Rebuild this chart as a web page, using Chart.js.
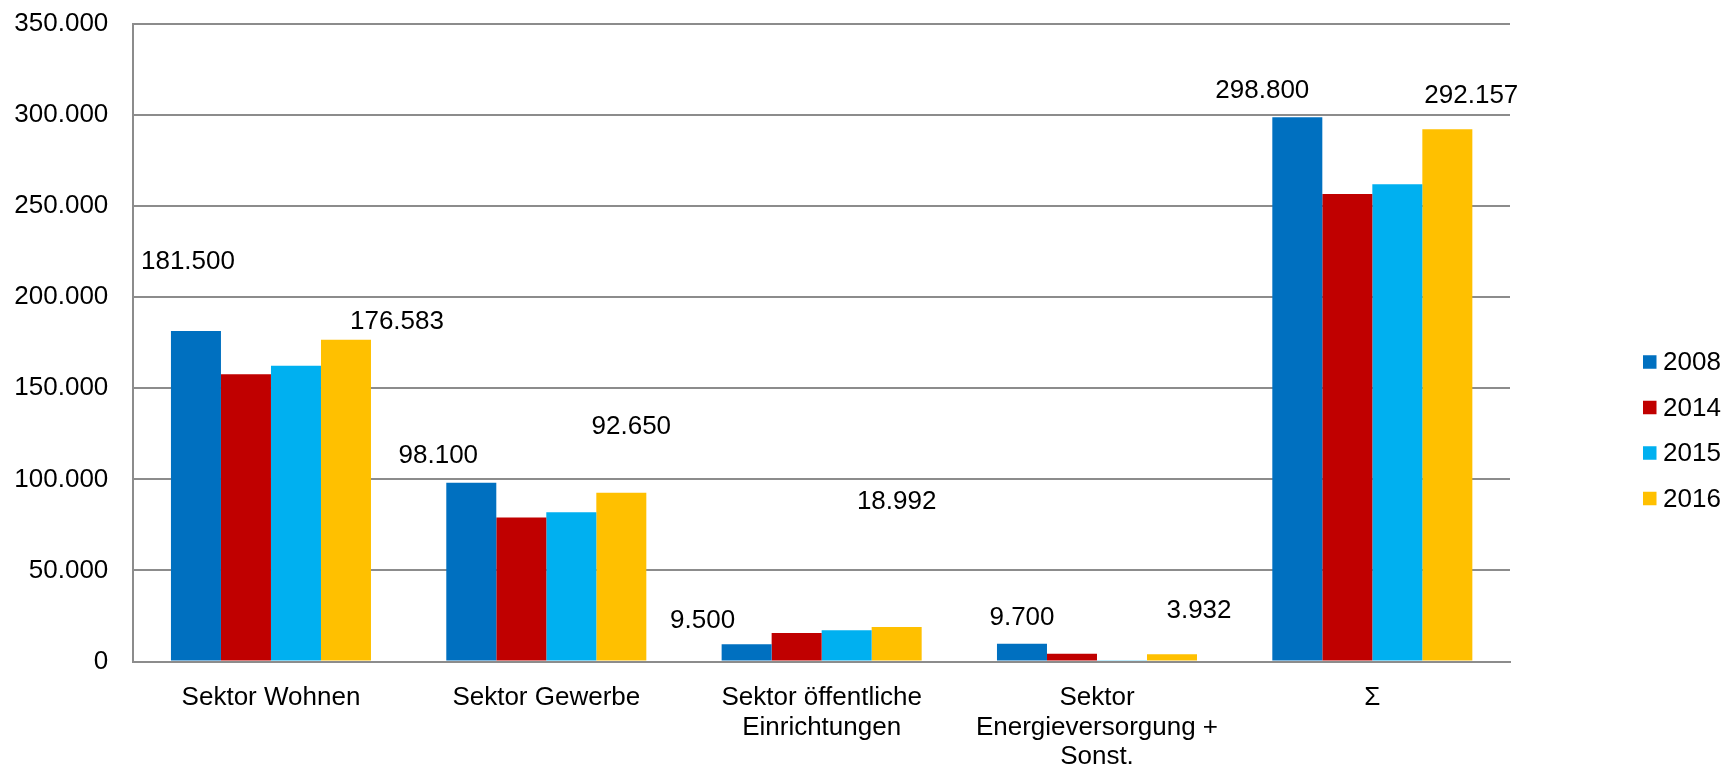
<!DOCTYPE html>
<html lang="de">
<head>
<meta charset="utf-8">
<title>Sektoren 2008-2016</title>
<script src="https://cdn.jsdelivr.net/npm/chart.js@4.4.1/dist/chart.umd.min.js"></script>
<style>
    html, body { margin: 0; padding: 0; background: #fff; }
    #wrap { width: 1727px; height: 765px; }
</style>
</head>
<body>
<div id="wrap"><canvas id="sektorChart" width="1727" height="765"></canvas></div>
<script>
// Data
const categories = [
    ['Sektor Wohnen'],
    ['Sektor Gewerbe'],
    ['Sektor öffentliche', 'Einrichtungen'],
    ['Sektor', 'Energieversorgung +', 'Sonst.'],
    ['Σ']
];
const years = ['2008', '2014', '2015', '2016'];
const values2008 = [181500, 98100, 9500, 9700, 298800];
const values2014 = [157700, 79000, 15700, 4200, 256600];
const values2015 = [162400, 81900, 17200, 400, 262000];
const values2016 = [176583, 92650, 18992, 3932, 292157];
const yTicks = [0, 50000, 100000, 150000, 200000, 250000, 300000, 350000];

// only 2008 and 2016 carry value labels in the original
const labelledSeries = [0, 3];

const colors = ['#0070C0', '#C00000', '#00B0F0', '#FFC000'];
const FONT = "'Liberation Sans', Arial, sans-serif";

// label offsets (px) from the top centre of each bar, as placed in the original
const labelOffsets = {
    0: [[-8, -69], [-33, -27], [-44, -23], [0, -26], [-35, -26]],
    3: [[51, -18], [10, -66], [0, -125], [27, -44], [24, -34]]
};

function fmt(v) {
    return String(Math.round(v)).replace(/\B(?=(\d{3})+(?!\d))/g, '.');
}

const valueLabels = {
    id: 'valueLabels',
    afterDatasetsDraw(chart) {
        const ctx = chart.ctx;
        ctx.save();
        ctx.font = '26px ' + FONT;
        ctx.fillStyle = '#000';
        ctx.textAlign = 'center';
        ctx.textBaseline = 'middle';
        labelledSeries.forEach(di => {
            const meta = chart.getDatasetMeta(di);
            meta.data.forEach((bar, i) => {
                const off = labelOffsets[di][i];
                const v = chart.data.datasets[di].data[i];
                ctx.fillText(fmt(v), bar.x + off[0], bar.y + off[1]);
            });
        });
        ctx.restore();
    }
};

const sideLegend = {
    id: 'sideLegend',
    afterDraw(chart) {
        const ctx = chart.ctx;
        const x = 1643, y0 = 362, step = 45.5, box = 13.5;
        ctx.save();
        ctx.font = '26px ' + FONT;
        ctx.textAlign = 'left';
        ctx.textBaseline = 'middle';
        chart.data.datasets.forEach((ds, i) => {
            const y = y0 + i * step;
            ctx.fillStyle = ds.backgroundColor;
            ctx.fillRect(x, y - box / 2, box, box);
            ctx.fillStyle = '#000';
            ctx.fillText(ds.label, x + 20, y + 1);
        });
        ctx.restore();
    }
};

const seriesValues = [values2008, values2014, values2015, values2016];

const chart = new Chart(document.getElementById('sektorChart'), {
    type: 'bar',
    data: {
        labels: categories,
        datasets: years.map((y, i) => ({
            label: y,
            data: seriesValues[i],
            backgroundColor: colors[i],
            borderWidth: 0,
            categoryPercentage: 0.7265,
            barPercentage: 1
        }))
    },
    options: {
        responsive: false,
        animation: false,
        layout: { padding: { top: 24, right: 217, left: 0, bottom: 0 } },
        plugins: {
            legend: { display: false },
            tooltip: { enabled: false }
        },
        scales: {
            x: {
                grid: { display: false, drawTicks: false },
                border: { display: true, color: '#8c8c8c', width: 2 },
                ticks: {
                    color: '#000',
                    font: { family: FONT, size: 26, lineHeight: 1.15 },
                    padding: 21,
                    maxRotation: 0,
                    autoSkip: false
                },
                afterFit(scale) {
                    scale.height = 103.5;
                    scale.paddingLeft = 0;
                    scale.paddingRight = 0;
                }
            },
            y: {
                min: 0,
                max: 350000,
                afterBuildTicks(scale) { scale.ticks = yTicks.map(v => ({ value: v })); },
                grid: { color: '#8c8c8c', lineWidth: 2, drawTicks: false },
                border: { display: true, color: '#8c8c8c', width: 2 },
                ticks: {
                    color: '#000',
                    font: { family: FONT, size: 26 },
                    padding: 25,
                    callback: v => fmt(v)
                },
                afterFit(scale) {
                    scale.width = 133.3;
                    scale.paddingTop = 0;
                    scale.paddingBottom = 0;
                }
            }
        }
    },
    plugins: [valueLabels, sideLegend]
});
</script>
</body>
</html>
